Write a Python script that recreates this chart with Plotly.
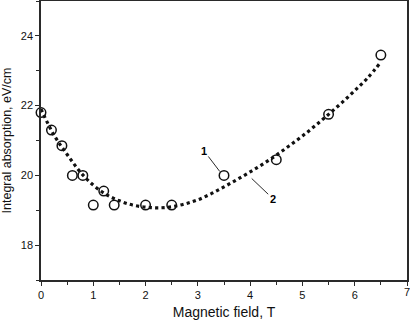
import plotly.graph_objects as go

# measured points (curve 1)
field_pts = [0, 0.2, 0.4, 0.6, 0.8, 1.0, 1.2, 1.4, 2.0, 2.5, 3.5, 4.5, 5.5, 6.5]
absorb_pts = [21.8, 21.3, 20.85, 20.0, 20.0, 19.15, 19.55, 19.15, 19.15, 19.15, 20.0, 20.45, 21.75, 23.45]

# fit curve (curve 2)
field_fit = [0, 0.25, 0.5, 0.75, 1.0, 1.25, 1.5, 1.75, 2.0, 2.25, 2.5, 2.75, 3.0, 3.25, 3.5,
             3.75, 4.0, 4.25, 4.5, 4.75, 5.0, 5.25, 5.5, 5.75, 6.0, 6.25, 6.5]
absorb_fit = [21.9, 21.15, 20.6, 20.1, 19.72, 19.45, 19.27, 19.15, 19.09, 19.07, 19.1, 19.18, 19.3,
              19.47, 19.67, 19.88, 20.1, 20.33, 20.58, 20.85, 21.13, 21.43, 21.75, 22.08, 22.43, 22.8, 23.25]

ink = "#2a2a2a"

fig = go.Figure()
fig.add_trace(go.Scatter(x=field_fit, y=absorb_fit, mode="lines", line_shape="spline",
                         line=dict(color="#111111", width=3.2, dash="dot"), showlegend=False))
fig.add_trace(go.Scatter(x=field_pts, y=absorb_pts, mode="markers",
                         marker=dict(symbol="circle-open", size=9.5, color="#111111", line=dict(width=1.5)),
                         showlegend=False, cliponaxis=False))

fig.add_annotation(x=3.42, y=20.11, text="<b>1</b>", showarrow=True, arrowhead=0, arrowwidth=1,
                   arrowcolor=ink, ax=-16, ay=-21, font=dict(size=11, color="#000000"), standoff=0)
fig.add_annotation(x=4.03, y=19.91, text="<b>2</b>", showarrow=True, arrowhead=0, arrowwidth=1,
                   arrowcolor=ink, ax=21, ay=20, font=dict(size=11, color="#000000"), standoff=0)
# last tick label sits on the page edge, plotly drops it
fig.add_annotation(x=7, y=17, text="7", showarrow=False, yanchor="top", yshift=-4,
                   font=dict(size=11, color="#111111"))

axis_style = dict(showline=True, linecolor=ink, linewidth=1.5, mirror=True, showgrid=False,
                  zeroline=False, ticks="outside", ticklen=4, tickwidth=1, tickcolor=ink,
                  tickfont=dict(size=11, color="#111111"), automargin=False)

fig.update_xaxes(range=[0, 7], dtick=1, minor=dict(dtick=0.5, ticks="outside", ticklen=3, tickcolor=ink),
                 title=dict(text="Magnetic field, T", font=dict(size=14, color="#111111"), standoff=10),
                 **axis_style)
fig.update_yaxes(range=[17, 25], tickvals=[18, 20, 22, 24], minor=dict(dtick=1, ticks="outside", ticklen=3, tickcolor=ink),
                 title=dict(text="Integral absorption, eV/cm", font=dict(size=12.5, color="#111111"), standoff=7),
                 **axis_style)

fig.update_layout(width=410, height=320, margin=dict(l=41, r=3, t=1, b=40),
                  plot_bgcolor="white", paper_bgcolor="white",
                  font=dict(family="Liberation Sans, Arial, sans-serif"))

fig.write_html("out.html", config={"displayModeBar": False},
               post_script="document.body.style.margin='0';")
